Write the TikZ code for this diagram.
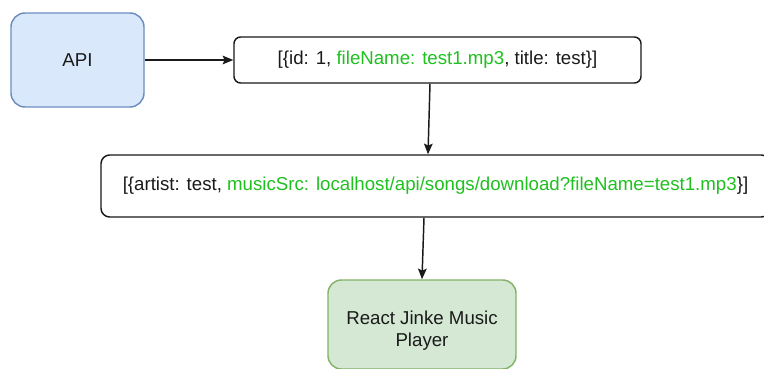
\documentclass[tikz,border=0pt]{standalone}
\usepackage{fontspec}
\setmainfont{Liberation Sans}
\usetikzlibrary{positioning,arrows.meta,calc}
\definecolor{apifill}{HTML}{DAE8FC}
\definecolor{apidraw}{HTML}{6C8EBF}
\definecolor{playfill}{HTML}{D5E8D4}
\definecolor{playdraw}{HTML}{82B366}
\definecolor{keygreen}{HTML}{1FC01F}
\definecolor{txt}{HTML}{1A1A1A}
\newcommand{\grn}[1]{\textcolor{keygreen}{#1}}
\begin{document}
\begin{tikzpicture}[x=0.75pt,y=-0.75pt,font=\fontsize{14}{16.5}\selectfont, line join=round, >={Stealth[length=8pt,width=6.5pt,inset=1.5pt]}]
\tikzset{
  databox/.style={draw=txt,line width=1.1pt,fill=white,text=txt,inner sep=0pt},
  apibox/.style={draw=apidraw,fill=apifill,line width=1.1pt,text=txt,rounded corners=10.5pt,minimum width=99.75pt,minimum height=70.5pt},
  playbox/.style={draw=playdraw,fill=playfill,line width=1.1pt,text=txt,rounded corners=10pt,align=center,minimum width=141pt,minimum height=66.75pt},
  arr/.style={->,draw=txt,line width=1.1pt}
}
\useasboundingbox (0,0) rectangle (764,368);
\clip (0,0) rectangle (764,368);
\fill[white] (0,0) rectangle (764,368);
% boxes
\node[apibox] (api) at (77.5,60) {API};
\node[databox,rounded corners=5pt,minimum width=305.25pt,minimum height=34.5pt] (songs) at (437.5,60)
  {[\{id: 1, \grn{fileName: test1.mp3}, title: test\}]};
\node[databox,rounded corners=6.5pt,minimum width=501.75pt,minimum height=46.5pt] (tracks) at (435.5,186)
  {[\{artist: test, \grn{musicSrc: localhost/api/songs/download?fileName=test1.mp3}\}]};
\node[playbox] (player) at (422,324.5) {\rule{0pt}{20pt}React Jinke Music\\Player};
% arrows
\draw[arr] (api) -- (songs);
\draw[arr] ($(songs.south)+(-7.5,0)$) -- ($(tracks.north)+(-7.5,0)$);
\draw[arr] ($(tracks.south)+(-11.5,0)$) -- (player.north);
\end{tikzpicture}
\end{document}
